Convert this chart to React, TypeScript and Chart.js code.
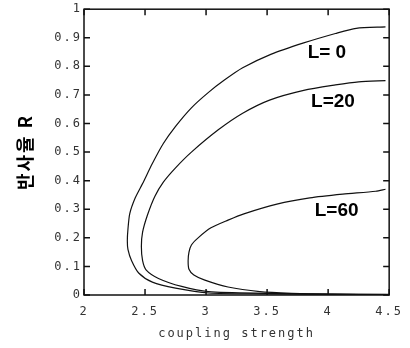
import React, { useEffect, useRef } from "react";
import { Chart, registerables } from "chart.js";

Chart.register(...registerables);

// ---- data ----
const xTicks = [2, 2.5, 3, 3.5, 4, 4.5];
const yTicks = [0, 0.1, 0.2, 0.3, 0.4, 0.5, 0.6, 0.7, 0.8, 0.9, 1];

// L = 0 : lower branch (right -> turning point) then upper branch
const l0X = [4.5, 4.0, 3.5, 3.02, 2.75, 2.56, 2.45, 2.39, 2.36, 2.355, 2.36, 2.375, 2.42, 2.48, 2.56, 2.65, 2.75, 2.88, 3.02, 3.15, 3.3, 3.53, 3.8, 4.06, 4.23, 4.47];
const l0R = [0.001, 0.002, 0.004, 0.007, 0.024, 0.045, 0.076, 0.12, 0.16, 0.19, 0.23, 0.285, 0.34, 0.39, 0.46, 0.53, 0.59, 0.655, 0.709, 0.752, 0.795, 0.842, 0.882, 0.915, 0.933, 0.938];

// L = 20
const l20X = [4.5, 4.0, 3.5, 3.02, 2.8, 2.61, 2.51, 2.48, 2.47, 2.48, 2.52, 2.58, 2.65, 2.75, 2.88, 3.1, 3.3, 3.52, 3.8, 4.06, 4.25, 4.47];
const l20R = [0.001, 0.003, 0.006, 0.012, 0.03, 0.058, 0.087, 0.12, 0.17, 0.22, 0.28, 0.345, 0.395, 0.445, 0.5, 0.578, 0.636, 0.682, 0.716, 0.735, 0.746, 0.75];

// L = 60
const l60X = [4.5, 4.0, 3.7, 3.44, 3.18, 2.99, 2.9, 2.86, 2.853, 2.86, 2.88, 2.935, 3.04, 3.18, 3.31, 3.58, 3.85, 4.12, 4.39, 4.47];
const l60R = [0.002, 0.003, 0.006, 0.012, 0.028, 0.052, 0.07, 0.09, 0.12, 0.15, 0.175, 0.2, 0.235, 0.262, 0.284, 0.318, 0.34, 0.353, 0.363, 0.37];

const curveLabels = ["L= 0", "L=20", "L=60"];
const labelX = [3.99, 4.04, 4.07];
const labelR = [0.848, 0.675, 0.294];

const xTitle = "coupling strength";
const yTitle = "반사율 R";

const toPoints = (xs: number[], ys: number[]) => xs.map((x, i) => ({ x, y: ys[i] }));

const framePlugin = {
  id: "frame",
  beforeDraw(chart: any) {
    (chart.ctx as any).letterSpacing = "2px";
  },
  afterDraw(chart: any) {
    const { ctx, chartArea: a, scales } = chart;
    ctx.save();
    (ctx as any).letterSpacing = "0px";
    ctx.strokeStyle = "#111";
    ctx.lineWidth = 1.5;
    ctx.strokeRect(a.left, a.top, a.right - a.left, a.bottom - a.top);
    ctx.beginPath();
    const tl = 6;
    yTicks.forEach((v) => {
      const p = scales.y.getPixelForValue(v);
      ctx.moveTo(a.left, p);
      ctx.lineTo(a.left + tl, p);
      ctx.moveTo(a.right, p);
      ctx.lineTo(a.right - tl, p);
    });
    xTicks.forEach((v) => {
      const p = scales.x.getPixelForValue(v);
      ctx.moveTo(p, a.bottom);
      ctx.lineTo(p, a.bottom - tl);
      ctx.moveTo(p, a.top);
      ctx.lineTo(p, a.top + tl);
    });
    ctx.stroke();
    // curve labels
    ctx.fillStyle = "#000";
    ctx.font = "bold 19px 'Liberation Sans', Arial, sans-serif";
    ctx.textAlign = "center";
    ctx.textBaseline = "middle";
    curveLabels.forEach((t, i) => {
      ctx.fillText(t, scales.x.getPixelForValue(labelX[i]), scales.y.getPixelForValue(labelR[i]));
    });
    ctx.restore();
  },
};

export default function App() {
  const ref = useRef<HTMLCanvasElement | null>(null);
  useEffect(() => {
    if (!ref.current) return;
    const line = { showLine: true, pointRadius: 0, borderColor: "#111", borderWidth: 1.2, tension: 0.25, fill: false };
    const chart = new Chart(ref.current, {
      type: "scatter",
      data: {
        datasets: [
          { label: curveLabels[0], data: toPoints(l0X, l0R), ...line },
          { label: curveLabels[1], data: toPoints(l20X, l20R), ...line },
          { label: curveLabels[2], data: toPoints(l60X, l60R), ...line },
        ],
      },
      options: {
        animation: false,
        responsive: false,
        layout: { padding: { left: 0, right: 16, top: 6, bottom: 0 } },
        plugins: { legend: { display: false }, tooltip: { enabled: false } },
        scales: {
          x: {
            type: "linear",
            min: 2,
            max: 4.5,
            afterBuildTicks: (s: any) => {
              s.ticks = xTicks.map((v) => ({ value: v }));
            },
            afterFit: (s: any) => {
              s.height = 53;
            },
            grid: { display: false, drawTicks: false },
            border: { display: false },
            ticks: {
              callback: (v: any) => String(v),
              padding: 10,
              maxRotation: 0,
              autoSkip: false,
              color: "#333",
              font: { family: "'DejaVu Sans Mono', monospace", size: 12 },
            },
            title: {
              display: true,
              text: xTitle,
              color: "#333",
              font: { family: "'DejaVu Sans Mono', monospace", size: 12 },
              padding: { top: 0, bottom: 7 },
            },
          },
          y: {
            type: "linear",
            min: 0,
            max: 1,
            afterBuildTicks: (s: any) => {
              s.ticks = yTicks.map((v) => ({ value: v }));
            },
            afterFit: (s: any) => {
              s.width = 84;
            },
            grid: { display: false, drawTicks: false },
            border: { display: false },
            ticks: {
              callback: (v: any) => (v === 0 ? "0" : v === 1 ? "1" : Number(v).toFixed(1)),
              padding: 2,
              autoSkip: false,
              color: "#333",
              font: { family: "'DejaVu Sans Mono', monospace", size: 12 },
            },
            title: {
              display: true,
              text: yTitle,
              color: "#000",
              font: { family: "'Noto Sans CJK KR', sans-serif", size: 18, weight: "bold" },
              padding: { top: 14, bottom: 0 },
            },
          },
        },
      },
      plugins: [framePlugin],
    } as any);
    return () => chart.destroy();
  }, []);
  return (
    <div style={{ position: "absolute", left: 0, top: 0, width: 410, height: 348, background: "#fff" }}>
      <canvas ref={ref} width={410} height={348} />
    </div>
  );
}
